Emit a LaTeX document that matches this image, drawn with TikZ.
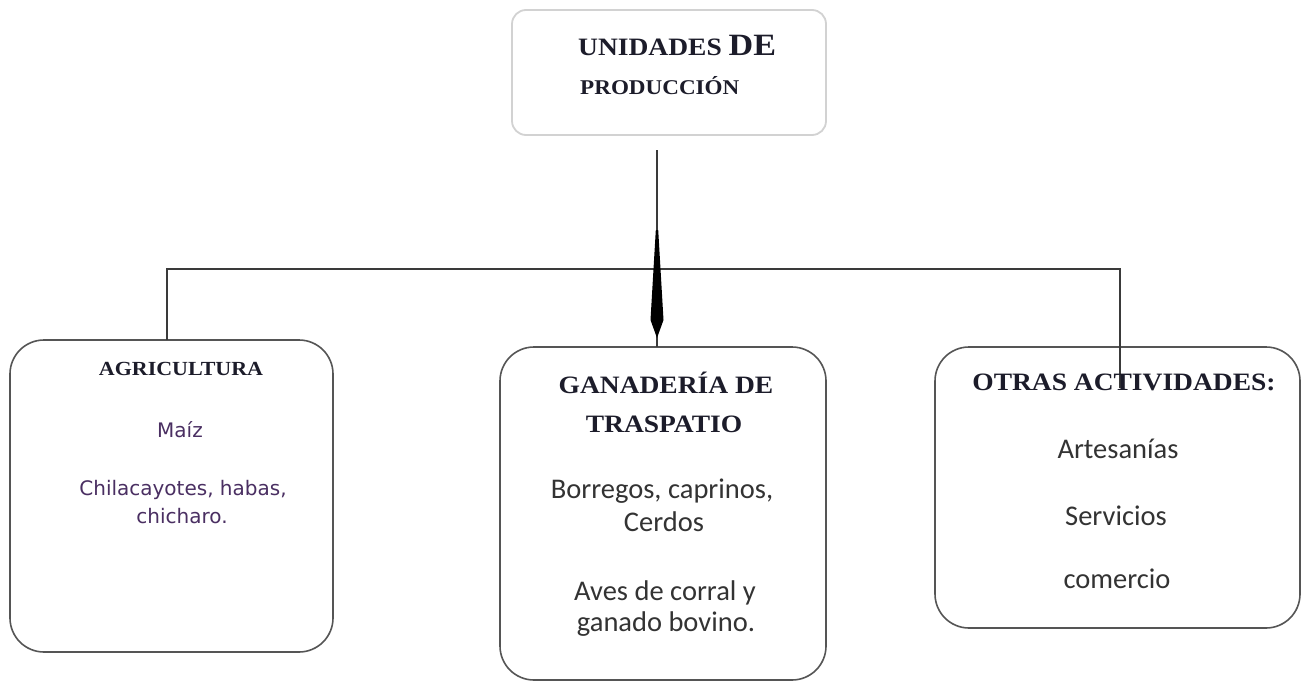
\documentclass[tikz,border=0pt]{standalone}
\usepackage{fontspec}
\usetikzlibrary{calc}
\setmainfont{Liberation Serif}
\newfontfamily\headfont[FakeStretch=1.1]{Liberation Serif}
\newfontfamily\bodyfont{Carlito}
\newfontfamily\smallfont{DejaVu Sans}
\definecolor{boxgray}{HTML}{555555}
\definecolor{lightgray2}{HTML}{D2D2D2}
\definecolor{headcol}{HTML}{1C1C2A}
\definecolor{bodycol}{HTML}{333333}
\definecolor{purplecol}{HTML}{4A2F62}
\definecolor{linecol}{HTML}{3A3A3A}
\begin{document}
\begin{tikzpicture}[x=1pt,y=-1pt,
  box/.style={draw=boxgray, line width=1.6pt, rounded corners=34pt, inner sep=0pt, outer sep=0pt, fill=white},
  topbox/.style={draw=lightgray2, line width=1.8pt, rounded corners=14pt, inner sep=0pt, outer sep=0pt, fill=white},
  head/.style={font=\headfont\bfseries\fontsize{25}{30}\selectfont, text=headcol, inner sep=0pt, anchor=base},
  body/.style={font=\bodyfont\fontsize{28.5}{33}\selectfont, text=bodycol, inner sep=0pt, anchor=base},
  small/.style={font=\smallfont\fontsize{20}{24}\selectfont, text=purplecol, inner sep=0pt, anchor=base},
  conn/.style={draw=linecol, line width=1.4pt}]
\useasboundingbox (0,0) rectangle (1308,682);
% boxes
\node[topbox, minimum width=314pt, minimum height=125pt] (top) at (669,72.5) {};
\node[box, minimum width=323pt, minimum height=312pt] (agri) at (171.5,496) {};
\node[box, minimum width=326pt, minimum height=333pt] (gan) at (663,513.5) {};
\node[box, minimum width=365pt, minimum height=281pt] (otras) at (1117.5,487.5) {};
% connectors
\coordinate (bus) at (657,269);
\coordinate (stemtop) at (657,150);
\coordinate (agrijoin) at (167,269);
\coordinate (otrasjoin) at (1120,269);
\coordinate (otrasend) at (1120,388);
\draw[conn] (agri.north -| agrijoin) -- (agrijoin) -- (otrasjoin) -- (otrasend);
\draw[conn] (stemtop) -- (gan.north -| stemtop);
\fill[black] ($(stemtop)+(-1.2,80)$) -- ($(stemtop)+(-6.5,170)$) -- ($(stemtop)+(0,188)$) -- ($(stemtop)+(6.5,170)$) -- ($(stemtop)+(1.2,80)$) -- cycle;
% top text
\node[head, anchor=base west] (t1) at (578,56) {UNIDADES {\fontsize{31}{34}\selectfont DE}};
\node[head, anchor=base west, font=\headfont\bfseries\fontsize{21}{25}\selectfont] (t2) at (580,95) {PRODUCCIÓN};
% agricultura
\node[head, font=\headfont\bfseries\fontsize{20}{24}\selectfont] (a0) at (181,375) {AGRICULTURA};
\node[small] (a1) at (180,437) {Maíz};
\node[small] (a2) at (183,495) {Chilacayotes, habas,};
\node[small] (a3) at (182,523) {chicharo.};
% ganaderia
\node[head] (g0) at (666,393) {GANADERÍA DE};
\node[head] (g1) at (664,432) {TRASPATIO};
\node[body] (g2) at (662,498) {Borregos, caprinos,};
\node[body] (g3) at (664,531) {Cerdos};
\node[body] (g4) at (665,600) {Aves de corral y};
\node[body] (g5) at (666,631) {ganado bovino.};
% otras
\node[head] (o0) at (1124,390) {OTRAS ACTIVIDADES:};
\node[body] (o1) at (1118,458) {Artesanías};
\node[body] (o2) at (1116,525) {Servicios};
\node[body] (o3) at (1117,588) {comercio};
\end{tikzpicture}
\end{document}
